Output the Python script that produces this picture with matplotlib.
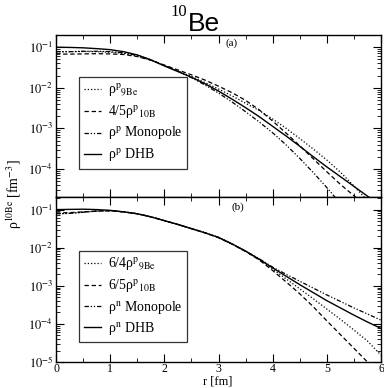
import numpy as np
import matplotlib
matplotlib.use("Agg")
import matplotlib.pyplot as plt
from matplotlib.ticker import LogLocator, FuncFormatter, MultipleLocator, NullFormatter

plt.rcParams['font.family'] = ['Liberation Serif', 'DejaVu Serif']
plt.rcParams['mathtext.fontset'] = 'stix'

# radius grid [fm]
r = [0.0, 0.25, 0.5, 0.75, 1.0, 1.25, 1.5, 1.75, 2.0, 2.25, 2.5, 2.75, 3.0,
     3.25, 3.5, 3.75, 4.0, 4.25, 4.5, 4.75, 5.0, 5.25, 5.5, 5.75, 6.0]

# panel (a): proton densities, log10 of rho [fm^-3]
p_9be_log10 = [-1.11, -1.11, -1.105, -1.11, -1.12, -1.15, -1.22, -1.32, -1.46, -1.59, -1.72, -1.87, -2.03,
               -2.20, -2.38, -2.56, -2.77, -3.00, -3.25, -3.51, -3.78, -4.08, -4.42, -4.78, -5.15]
p_10b_log10 = [-1.17, -1.17, -1.165, -1.16, -1.165, -1.18, -1.23, -1.32, -1.44, -1.56, -1.68, -1.81, -1.96,
               -2.12, -2.31, -2.54, -2.82, -3.12, -3.43, -3.75, -4.07, -4.38, -4.66, -4.95, -5.25]
p_mono_log10 = [-1.11, -1.11, -1.10, -1.10, -1.11, -1.14, -1.20, -1.31, -1.45, -1.59, -1.75, -1.93, -2.13,
                -2.35, -2.59, -2.84, -3.11, -3.41, -3.74, -4.09, -4.46, -4.85, -5.25, -5.65, -6.05]
p_dhb_log10 = [-1.00, -1.005, -1.015, -1.035, -1.06, -1.11, -1.19, -1.31, -1.46, -1.60, -1.74, -1.90, -2.08,
               -2.28, -2.49, -2.71, -2.95, -3.19, -3.44, -3.70, -3.95, -4.19, -4.43, -4.67, -4.91]

# panel (b): neutron densities, log10 of rho [fm^-3]
n_9be_log10 = [-1.11, -1.10, -1.07, -1.04, -1.03, -1.06, -1.11, -1.19, -1.29, -1.39, -1.50, -1.61, -1.73,
               -1.90, -2.09, -2.31, -2.56, -2.82, -3.08, -3.34, -3.61, -3.88, -4.16, -4.45, -4.82]
n_10b_log10 = [-1.09, -1.08, -1.06, -1.04, -1.03, -1.06, -1.11, -1.19, -1.29, -1.39, -1.50, -1.61, -1.74,
               -1.91, -2.10, -2.32, -2.60, -2.90, -3.21, -3.55, -3.92, -4.28, -4.64, -5.00, -5.36]
n_mono_log10 = [-1.11, -1.10, -1.07, -1.04, -1.03, -1.06, -1.11, -1.19, -1.29, -1.39, -1.50, -1.61, -1.73,
                -1.90, -2.09, -2.29, -2.51, -2.70, -2.88, -3.06, -3.24, -3.41, -3.58, -3.74, -3.90]
n_dhb_log10 = [-1.00, -0.995, -0.99, -1.00, -1.02, -1.06, -1.11, -1.19, -1.29, -1.39, -1.50, -1.61, -1.73,
               -1.90, -2.09, -2.30, -2.53, -2.75, -2.97, -3.18, -3.39, -3.58, -3.77, -3.95, -4.12]

labels_a = ['ρ$^{\\rm p}{}_{\\rm 9Be}$', '4/5ρ$^{\\rm p}{}_{\\rm 10B}$',
            'ρ$^{\\rm p}$ Monopole', 'ρ$^{\\rm p}$ DHB']
labels_b = ['6/4ρ$^{\\rm p}{}_{\\rm 9Be}$', '6/5ρ$^{\\rm p}{}_{\\rm 10B}$',
            'ρ$^{\\rm n}$ Monopole', 'ρ$^{\\rm n}$ DHB']

styles = [dict(ls=(0, (1, 1.6)), lw=0.9),
          dict(ls=(0, (3.5, 2.2)), lw=0.9),
          dict(ls=(0, (3.5, 1.5, 1, 1.5, 1, 1.5)), lw=0.9),
          dict(ls='-', lw=1.0)]

fig = plt.figure(figsize=(3.84, 3.88), dpi=100)
L, R = 56 / 384, 381 / 384
ax_a = fig.add_axes([L, 1 - 197.3 / 388, R - L, (197.3 - 35) / 388])
ax_b = fig.add_axes([L, 1 - 362 / 388, R - L, (362 - 197.3) / 388])

rr = np.array(r)

def style_axis(ax, ymin, ymax, show_x):
    ax.set_yscale('log')
    ax.set_xlim(0, 6)
    ax.set_ylim(ymin, ymax)
    ax.xaxis.set_major_locator(MultipleLocator(1))
    ax.xaxis.set_minor_locator(MultipleLocator(0.5))
    ax.yaxis.set_major_locator(LogLocator(base=10, numticks=20))
    ax.yaxis.set_minor_locator(LogLocator(base=10, subs=np.arange(2, 10), numticks=20))
    ax.yaxis.set_minor_formatter(NullFormatter())
    ax.yaxis.set_major_formatter(FuncFormatter(lambda v, p: r'$10^{%d}$' % int(round(np.log10(v)))))
    ax.tick_params(which='both', direction='in', top=True, right=True, labelsize=9, pad=2)
    ax.tick_params(axis='x', pad=0.5, labelsize=8.5)
    ax.tick_params(which='major', length=5.5, width=0.8)
    ax.tick_params(which='minor', length=2.6, width=0.6)
    if not show_x:
        ax.tick_params(axis='x', labelbottom=False)
    for s in ax.spines.values():
        s.set_linewidth(1.0)

def draw(ax, series, labels):
    for vals, lab, st in zip(series, labels, styles):
        ax.plot(rr, 10 ** np.array(vals), color='black', label=lab, **st)

draw(ax_a, [p_9be_log10, p_10b_log10, p_mono_log10, p_dhb_log10], labels_a)
draw(ax_b, [n_9be_log10, n_10b_log10, n_mono_log10, n_dhb_log10], labels_b)
style_axis(ax_a, 2e-5, 0.2, False)
style_axis(ax_b, 1e-5, 0.21, True)

leg_kw = dict(loc='upper left', borderaxespad=0, frameon=True, fancybox=False,
              edgecolor='black', fontsize=10, handlelength=1.2, handletextpad=0.5,
              labelspacing=0.3, borderpad=0.35)
la = ax_a.legend(bbox_to_anchor=(0.071, 0.741), **leg_kw)
lb = ax_b.legend(bbox_to_anchor=(0.071, 0.674), **leg_kw)
for lg in (la, lb):
    lg.get_frame().set_linewidth(0.9)

ax_a.text(0.54, 0.95, '(a)', transform=ax_a.transAxes, ha='center', va='center', fontsize=8)
ax_b.text(0.56, 0.94, '(b)', transform=ax_b.transAxes, ha='center', va='center', fontsize=8)

fig.text(218 / 384, 1 - 387.5 / 388, 'r [fm]', ha='center', va='bottom', fontsize=9)

fig.text(0.038, 0.50, 'ρ$^{\\rm 10Be}$ [fm$^{-3}$]', rotation=90, ha='center', va='center', fontsize=10)

# title
fig.text(187 / 384, 1 - 12 / 388, '10', ha='right', va='center', fontsize=12,
         family='Liberation Serif')
fig.text(188 / 384, 1 - 31 / 388, 'Be', ha='left', va='baseline', fontsize=19,
         family='Liberation Sans')

fig.savefig('out.png', dpi=100)
